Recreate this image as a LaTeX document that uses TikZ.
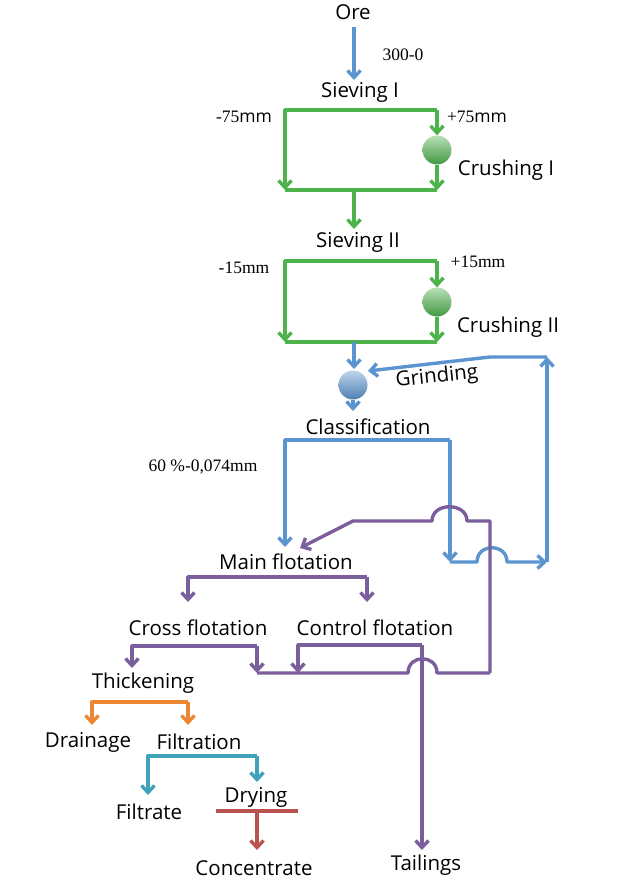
\documentclass[tikz,border=0pt]{standalone}
\usepackage{fontspec}
\setmainfont{Open Sans}
\newfontfamily\numfont{Liberation Serif}
\usetikzlibrary{arrows.meta}
\definecolor{cblue}{HTML}{5B95D0}
\definecolor{cgreen}{HTML}{4DB34D}
\definecolor{cpurple}{HTML}{7A5F9C}
\definecolor{corange}{HTML}{EE8733}
\definecolor{cteal}{HTML}{3FA2BA}
\definecolor{cred}{HTML}{B9534F}
\begin{document}
\begin{tikzpicture}[x=1pt,y=-1pt,
  lbl/.style={font=\fontsize{20.5}{24}\selectfont, inner sep=0pt},
  num/.style={font=\fontsize{17.5}{20}\selectfont, inner sep=0pt},
  flow/.style={line width=3.4pt, line join=round},
  arr/.style={-{Straight Barb[length=7pt,width=13pt]}},
  gball/.style={circle, minimum size=29pt, inner sep=0pt, top color=cgreen!40!white, middle color=cgreen, bottom color=cgreen!85!black},
  bball/.style={circle, minimum size=29pt, inner sep=0pt, top color=cblue!40!white, middle color=cblue, bottom color=cblue!85!black}]
\useasboundingbox (0,0) rectangle (633,885);
\fill[white] (0,0) rectangle (633,885);

% ---------- text nodes ----------
\node[lbl] (ore) at (353,12) {Ore};
\node[num] (n300) at (403,55) {\numfont 300-0};
\node[lbl] (siev1) at (360,92) {Sieving I};
\node[num] (m75) at (244,117) {{\numfont -75}mm};
\node[num] (p75) at (477,117) {{\numfont +75}mm};
\node[lbl] (crush1) at (506,170) {Crushing I};
\node[lbl] (siev2) at (358,242) {Sieving II};
\node[num] (m15) at (244,268) {\numfont -15mm};
\node[num] (p15) at (478,262) {\numfont +15mm};
\node[lbl] (crush2) at (508,327) {Crushing II};
\node[lbl, rotate=6] (grind) at (437,377) {Grinding};
\node[lbl] (class) at (368,427) {Classification};
\node[num] (pct) at (203,467) {\numfont 60 \%-0,074mm};
\node[lbl] (mainf) at (286,562) {Main flotation};
\node[lbl] (crossf) at (198,628) {Cross flotation};
\node[lbl] (contf) at (375,628) {Control flotation};
\node[lbl] (thick) at (143,683) {Thickening};
\node[lbl] (drain) at (88,742) {Drainage};
\node[lbl] (filt) at (199,742) {Filtration};
\node[lbl] (filtr) at (149,812) {Filtrate};
\node[lbl] (dry) at (256,797) {Drying};
\node[lbl] (conc) at (254,868) {Concentrate};
\node[lbl] (tail) at (426,865) {Tailings};

% ---------- balls ----------
\node[gball] (c1) at (437,150) {};
\node[gball] (c2) at (437,302) {};
\node[bball] (c3) at (353,385) {};

% ---------- coordinates ----------
\coordinate (oreA) at (354,27);
\coordinate (oreB) at (354,80);
\coordinate (g1l) at (285,110);
\coordinate (g1r) at (437,110);
\coordinate (g1bl) at (285,190);
\coordinate (g1br) at (437,190);
\coordinate (g1m) at (354,190);
\coordinate (g1d) at (354,229);
\coordinate (g2l) at (285,261);
\coordinate (g2r) at (437,261);
\coordinate (g2bl) at (285,342);
\coordinate (g2br) at (437,342);
\coordinate (g2m) at (354,342);
\coordinate (g2d) at (354,369);
\coordinate (c3d) at (353,411);
\coordinate (bl) at (285,440);
\coordinate (br) at (450,440);
\coordinate (bld) at (285,547);
\coordinate (brd) at (450,562);
\coordinate (hb1) at (477,562);
\coordinate (hb2) at (507,562);
\coordinate (rb) at (547,562);
\coordinate (rt) at (547,357);
\coordinate (rk) at (490,357);
\coordinate (c3in) at (368,371);
\coordinate (pv) at (490,673);
\coordinate (pt) at (490,521);
\coordinate (hp1) at (467,521);
\coordinate (hp2) at (432,521);
\coordinate (pk) at (353,521);
\coordinate (pm) at (300,548);
\coordinate (mfl) at (188,577);
\coordinate (mfr) at (367,577);
\coordinate (mfld) at (188,602);
\coordinate (mfrd) at (367,602);
\coordinate (cfl) at (132,646);
\coordinate (cfr) at (257,646);
\coordinate (cfld) at (132,668);
\coordinate (cfrd) at (257,673);
\coordinate (hq1) at (437,673);
\coordinate (hq2) at (408,673);
\coordinate (ctl) at (298,645);
\coordinate (ctr) at (422,645);
\coordinate (ctld) at (298,673);
\coordinate (tlA) at (422,850);
\coordinate (ol) at (92,702);
\coordinate (or) at (188,702);
\coordinate (old) at (92,725);
\coordinate (ord) at (188,725);
\coordinate (tl) at (148,756);
\coordinate (tr) at (257,756);
\coordinate (tld) at (148,795);
\coordinate (trd) at (257,782);
\coordinate (rl) at (216,811);
\coordinate (rr) at (298,811);
\coordinate (rm) at (257,811);
\coordinate (rd) at (257,850);

% ---------- blue top ----------
\draw[flow,cblue,arr] (oreA) -- (oreB);

% ---------- green 1 ----------
\draw[flow,cgreen,arr] (g1r) -- (g1l) -- (g1bl);
\draw[flow,cgreen,arr] (g1r) -- (c1.north);
\draw[flow,cgreen,arr] (c1.south) -- (g1br);
\draw[flow,cgreen] (g1bl) -- (g1br);
\draw[flow,cgreen,arr] (g1m) -- (g1d);

% ---------- green 2 ----------
\draw[flow,cgreen,arr] (g2r) -- (g2l) -- (g2bl);
\draw[flow,cgreen,arr] (g2r) -- (c2.north);
\draw[flow,cgreen,arr] (c2.south) -- (g2br);
\draw[flow,cgreen] (g2bl) -- (g2br);

% ---------- blue grinding / classification ----------
\draw[flow,cblue,arr] (g2m) -- (g2d);
\draw[flow,cblue,arr] (c3.south) -- (c3d);
\draw[flow,cblue,arr] (br) -- (bl) -- (bld);
\draw[flow,cblue,arr] (br) -- (brd);
\draw[flow,cblue,arr] (brd) -- (hb1) .. controls (477,543) and (507,543) .. (hb2) -- (rb);
\draw[flow,cblue,arr] (rb) -- (rt);
\draw[flow,cblue,arr] (rt) -- (rk) -- (c3in);

% ---------- purple ----------
\draw[flow,cpurple,arr] (pv) -- (pt) -- (hp1) .. controls (467,502) and (432,502) .. (hp2) -- (pk) -- (pm);
\draw[flow,cpurple,arr] (mfr) -- (mfl) -- (mfld);
\draw[flow,cpurple,arr] (mfr) -- (mfrd);
\draw[flow,cpurple,arr] (cfr) -- (cfl) -- (cfld);
\draw[flow,cpurple,arr] (cfr) -- (cfrd);
\draw[flow,cpurple] (cfrd) -- (hq2) .. controls (408,654) and (437,654) .. (hq1) -- (pv);
\draw[flow,cpurple,arr] (ctr) -- (ctl) -- (ctld);
\draw[flow,cpurple,arr] (ctr) -- (tlA);

% ---------- orange ----------
\draw[flow,corange,arr] (or) -- (ol) -- (old);
\draw[flow,corange,arr] (or) -- (ord);

% ---------- teal ----------
\draw[flow,cteal,arr] (tr) -- (tl) -- (tld);
\draw[flow,cteal,arr] (tr) -- (trd);

% ---------- red ----------
\draw[flow,cred] (rl) -- (rr);
\draw[flow,cred,arr] (rm) -- (rd);
\end{tikzpicture}
\end{document}
